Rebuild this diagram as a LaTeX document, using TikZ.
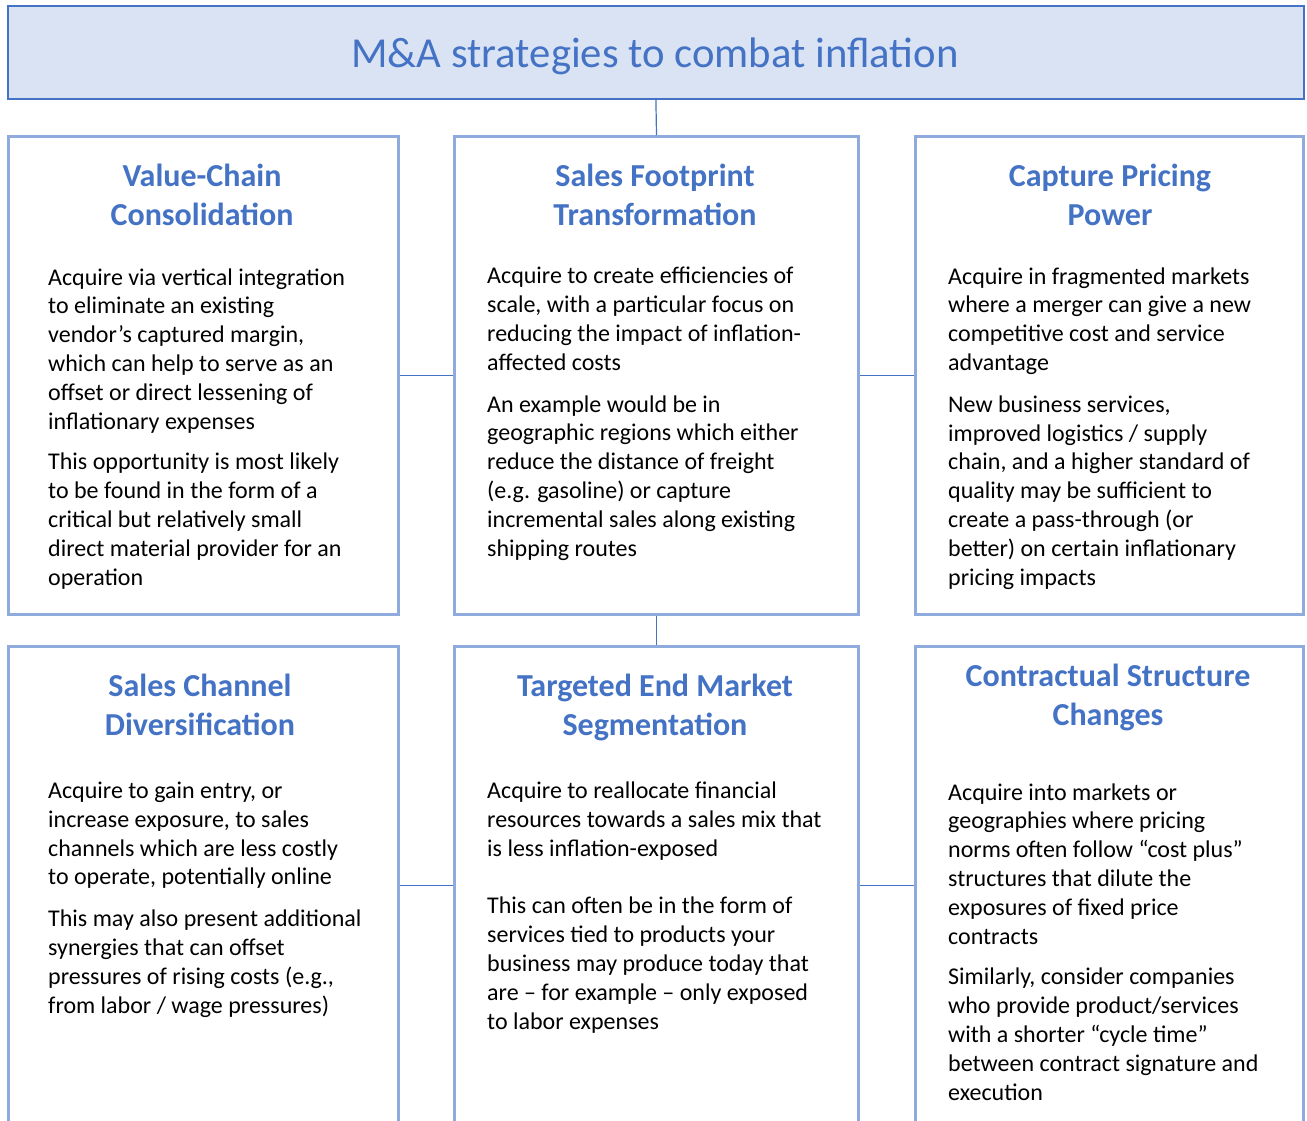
\documentclass[tikz,border=0pt]{standalone}
\usepackage{fontspec}
\setmainfont{Carlito}
\definecolor{accent}{HTML}{4472C4}
\definecolor{boxline}{HTML}{8FAADC}
\definecolor{headfill}{HTML}{DAE3F3}
\begin{document}
\begin{tikzpicture}[x=1pt,y=-1pt,
  panel/.style={draw=boxline,line width=3pt,fill=white,inner sep=0pt,
    minimum width=#1,minimum height=478pt,anchor=north west},
  headbox/.style={draw=accent,line width=1.8pt,fill=headfill,inner sep=0pt,
    minimum width=1296pt,minimum height=93pt,anchor=north west},
  link/.style={draw=accent,line width=1.2pt},
  heading/.style={text=accent,font=\bfseries\fontsize{32}{38.3}\selectfont,
    align=center,inner sep=0pt,anchor=base},
  bodytext/.style={text=black,font=\fontsize{24}{28.8}\selectfont,
    align=left,inner sep=0pt,anchor=base west}]
\useasboundingbox (0,0) rectangle (1307,1120);

% title banner
\node[headbox] (title) at (7,5) {};
\node[text=accent,font=\fontsize{42.7}{50}\selectfont,inner sep=0pt,anchor=base]
  (titletext) at (655,67) {M\&A strategies to combat inflation};

% top row panels
\node[panel=390pt] (vc) at (7,135) {};
\node[panel=404pt] (sf) at (453,135) {};
\node[panel=388pt] (cp) at (914,135) {};
% bottom row panels (run past the lower edge)
\node[panel=390pt] (sc) at (7,645) {};
\node[panel=404pt] (tm) at (453,645) {};
\node[panel=388pt] (cs) at (914,645) {};

% connectors
\draw[link] (title.south) -- (sf.north);
\draw[link] (vc.east) -- (sf.west);
\draw[link] (sf.east) -- (cp.west);
\draw[link] (sf.south) -- (tm.north);
\draw[link] (sc.east) -- (tm.west);
\draw[link] (tm.east) -- (cs.west);

% headings (placed by the baseline of their last line)
\node[heading] (vch) at (202,225) {Value-Chain\\Consolidation};
\node[heading] (sfh) at (655,225) {Sales Footprint\\Transformation};
\node[heading] (cph) at (1110,225) {Capture Pricing\\Power};
\node[heading] (sch) at (200,735) {Sales Channel\\Diversification};
\node[heading] (tmh) at (655,735) {Targeted End Market\\Segmentation};
\node[heading] (csh) at (1108,725) {Contractual Structure\\Changes};

% body texts (placed by the baseline of their last line)
\node[bodytext] (vcb) at (48,585) {Acquire via vertical integration\\
to eliminate an existing\\
vendor’s captured margin,\\
which can help to serve as an\\
offset or direct lessening of\\
inflationary expenses\\[12pt]
This opportunity is most likely\\
to be found in the form of a\\
critical but relatively small\\
direct material provider for an\\
operation};

\node[bodytext] (sfb) at (487,556) {Acquire to create efficiencies of\\
scale, with a particular focus on\\
reducing the impact of inflation-\\
affected costs\\[13pt]
An example would be in\\
geographic regions which either\\
reduce the distance of freight\\
(e.g. gasoline) or capture\\
incremental sales along existing\\
shipping routes};

\node[bodytext] (cpb) at (948,585) {Acquire in fragmented markets\\
where a merger can give a new\\
competitive cost and service\\
advantage\\[13pt]
New business services,\\
improved logistics / supply\\
chain, and a higher standard of\\
quality may be sufficient to\\
create a pass-through (or\\
better) on certain inflationary\\
pricing impacts};

\node[bodytext] (scb) at (48,1013) {Acquire to gain entry, or\\
increase exposure, to sales\\
channels which are less costly\\
to operate, potentially online\\[13pt]
This may also present additional\\
synergies that can offset\\
pressures of rising costs (e.g.,\\
from labor / wage pressures)};

\node[bodytext] (tmb) at (487,1029) {Acquire to reallocate financial\\
resources towards a sales mix that\\
is less inflation-exposed\\[29pt]
This can often be in the form of\\
services tied to products your\\
business may produce today that\\
are – for example – only exposed\\
to labor expenses};

\node[bodytext] (csb) at (948,1100) {Acquire into markets or\\
geographies where pricing\\
norms often follow “cost plus”\\
structures that dilute the\\
exposures of fixed price\\
contracts\\[12pt]
Similarly, consider companies\\
who provide product/services\\
with a shorter “cycle time”\\
between contract signature and\\
execution};
\end{tikzpicture}
\end{document}
